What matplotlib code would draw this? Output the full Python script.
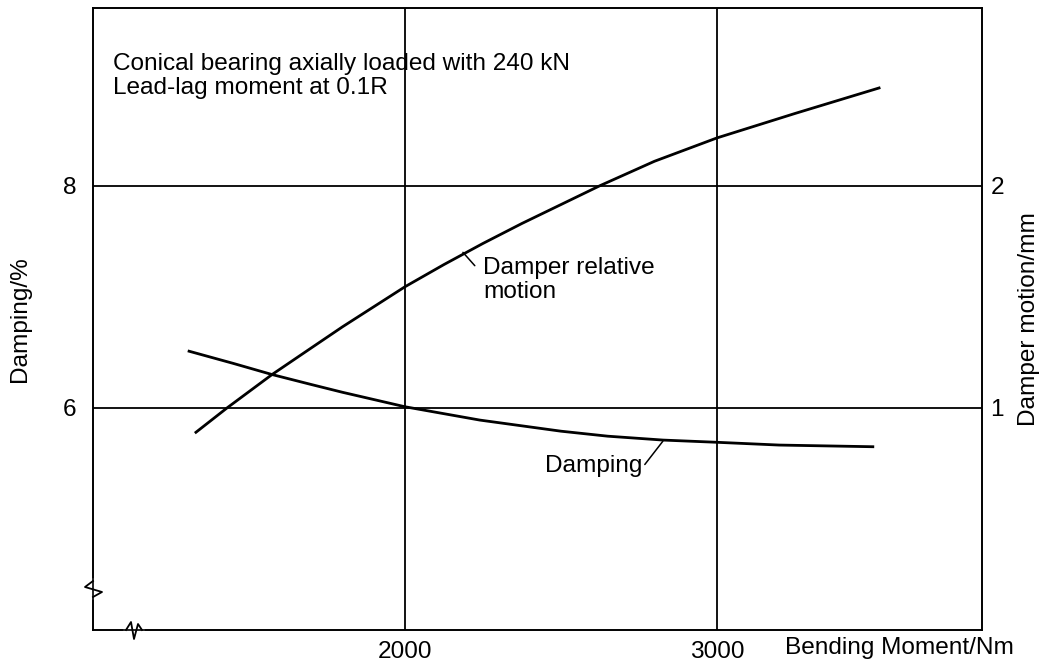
import matplotlib
matplotlib.use("Agg")
import matplotlib.pyplot as plt

plt.rcParams['font.family'] = ['Liberation Sans', 'DejaVu Sans']

# ── data ─────────────────────────────────────────────────────────────────────
moment_damping = [1308, 1450, 1574, 1700, 1800, 1900, 2000, 2120, 2240, 2370,
                  2500, 2650, 2827, 3000, 3200, 3500]
damping_pct    = [6.51, 6.40, 6.30, 6.21, 6.14, 6.075, 6.01, 5.95, 5.89, 5.84,
                  5.79, 5.745, 5.71, 5.69, 5.665, 5.65]

moment_motion  = [1330, 1430, 1574, 1700, 1800, 1900, 2000, 2125, 2250, 2375,
                  2500, 2625, 2800, 3000, 3250, 3520]
motion_mm      = [0.89, 1.00, 1.15, 1.27, 1.365, 1.455, 1.545, 1.645, 1.74, 1.83,
                  1.915, 2.00, 2.11, 2.215, 2.325, 2.44]

x_ticks     = [2000, 3000]
left_ticks  = [6, 8]
right_ticks = [1, 2]
X_LIM       = (1000, 3850)
LEFT_LIM    = (4.0, 9.6)
RIGHT_LIM   = (0.0, 2.8)     # right = left/2 - 2

FS = 17.6
LW_GRID = 1.3
LW_CURVE = 2.0

fig = plt.figure(figsize=(10.47, 6.65), dpi=100)
ax = fig.add_axes([93/1047, 35/665, 889/1047, 622/665])
ax.set_xlim(*X_LIM)
ax.set_ylim(*LEFT_LIM)

ax2 = ax.twinx()
ax2.set_ylim(*RIGHT_LIM)

for a in (ax, ax2):
    for s in a.spines.values():
        s.set_linewidth(1.2)
    a.tick_params(length=0, labelsize=FS)

ax.set_xticks(x_ticks)
ax.set_yticks(left_ticks)
ax2.set_yticks(right_ticks)
ax.tick_params(axis='x', pad=8)
ax.tick_params(axis='y', pad=12)
ax2.tick_params(axis='y', pad=6)

# grid
for xv in x_ticks:
    ax.axvline(xv, color='black', lw=LW_GRID, zorder=1)
for yv in left_ticks:
    ax.axhline(yv, color='black', lw=LW_GRID, zorder=1)

# curves
ax.plot(moment_damping, damping_pct, color='black', lw=LW_CURVE, zorder=3)
ax2.plot(moment_motion, motion_mm, color='black', lw=LW_CURVE, zorder=3)

# axis labels
ax.set_ylabel('Damping/%', fontsize=FS, labelpad=23)
ax2.set_ylabel('Damper motion/mm', fontsize=FS, labelpad=10)
fig.text(785/1047, 1 - 648/665, 'Bending Moment/Nm', fontsize=FS,
         ha='left', va='center')

# note
ax.text(0.022, 0.927, 'Conical bearing axially loaded with 240 kN\nLead-lag moment at 0.1R',
        transform=ax.transAxes, fontsize=FS, ha='left', va='top', linespacing=1.1)

# curve labels + leader lines
ax2.annotate('', xy=(2186, 1.70), xytext=(2224, 1.64),
             arrowprops=dict(arrowstyle='-', lw=1.1, shrinkA=0, shrinkB=0))
ax2.text(2250, 1.68, 'Damper relative\nmotion', fontsize=FS, ha='left', va='top',
         linespacing=1.15)
ax.annotate('', xy=(2827, 5.70), xytext=(2769, 5.49),
            arrowprops=dict(arrowstyle='-', lw=1.1, shrinkA=0, shrinkB=0))
ax.text(2760, 5.48, 'Damping', fontsize=FS, ha='right', va='center')

# axis break marks
tr = ax.transAxes
def px(xp, yp):
    return ((xp - 93) / 889, (630 - yp) / 622)

# left spine break
p0, p1 = px(93, 597), px(93, 581)
ax.plot([p0[0], p1[0]], [p0[1], p1[1]], color='white', lw=4, transform=tr,
        clip_on=False, zorder=5)
zz = [px(93, 597), px(102, 592), px(85, 587), px(93, 581)]
ax.plot([p[0] for p in zz], [p[1] for p in zz], color='black', lw=1.3,
        transform=tr, clip_on=False, zorder=6)

# bottom spine break
p0, p1 = px(126, 630), px(142, 630)
ax.plot([p0[0], p1[0]], [p0[1], p1[1]], color='white', lw=4, transform=tr,
        clip_on=False, zorder=5)
zz = [px(126, 630), px(131, 622), px(134, 639), px(138, 624), px(142, 630)]
ax.plot([p[0] for p in zz], [p[1] for p in zz], color='black', lw=1.3,
        transform=tr, clip_on=False, zorder=6)

fig.savefig('out.png', dpi=100)
